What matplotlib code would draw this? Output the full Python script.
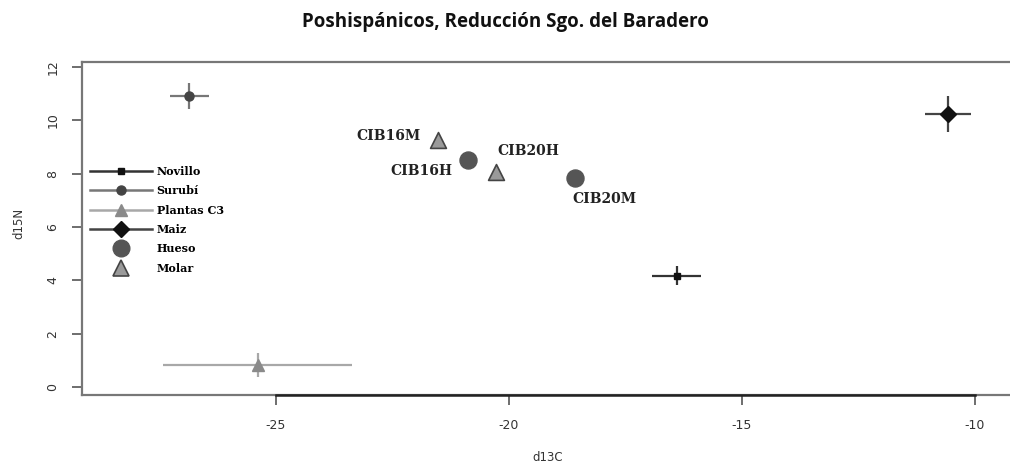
import matplotlib
matplotlib.use("Agg")
import matplotlib.pyplot as plt
from matplotlib.lines import Line2D

# fuentes de referencia (media, error x, error y)
ref_names = ["Novillo", "Surubí", "Plantas C3", "Maiz"]
ref_x = [-16.39, -26.86, -25.38, -10.58]
ref_y = [4.17, 10.91, 0.84, 10.24]
ref_xlo = [-16.93, -27.27, -27.42, -11.07]
ref_xhi = [-15.89, -26.44, -23.36, -10.09]
ref_ylo = [3.81, 10.42, 0.37, 9.57]
ref_yhi = [4.54, 11.40, 1.27, 10.92]

# muestras humanas
hueso_lab = ["CIB16H", "CIB20M"]
hueso_x = [-20.89, -18.59]
hueso_y = [8.51, 7.83]
molar_lab = ["CIB16M", "CIB20H"]
molar_x = [-21.52, -20.28]
molar_y = [9.26, 8.07]

xticks = [-25, -20, -15, -10]
yticks = [0, 2, 4, 6, 8, 10, 12]

ref_marker = ["s", "o", "^", "D"]
ref_mcol = ["#111111", "#444444", "#8a8a8a", "#111111"]
ref_ecol = ["#333333", "#777777", "#a8a8a8", "#444444"]
ref_ms = [5, 6.5, 8, 8]

fig = plt.figure(figsize=(10.1, 4.63), dpi=100)
ax = fig.add_axes([81.7 / 1010, 1 - 395 / 463, 1 - 81.7 / 1010, (395 - 61.7) / 463])

for i in range(len(ref_names)):
    ax.errorbar(ref_x[i], ref_y[i],
                xerr=[[ref_x[i] - ref_xlo[i]], [ref_xhi[i] - ref_x[i]]],
                yerr=[[ref_y[i] - ref_ylo[i]], [ref_yhi[i] - ref_y[i]]],
                fmt=ref_marker[i], color=ref_mcol[i], ecolor=ref_ecol[i],
                ms=ref_ms[i], elinewidth=1.6, capsize=0, zorder=3)

ax.scatter(hueso_x, hueso_y, s=150, marker="o", color="#555555", zorder=3)
ax.scatter(molar_x, molar_y, s=130, marker="^", facecolor="#9a9a9a",
           edgecolor="#444444", linewidth=1.2, zorder=3)

lab_font = dict(family="DejaVu Serif", fontweight="bold", fontsize=10, color="#222222")
ax.annotate(molar_lab[0], (molar_x[0], molar_y[0]), xytext=(-13, 3),
            textcoords="offset points", ha="right", va="center", **lab_font)
ax.annotate(hueso_lab[0], (hueso_x[0], hueso_y[0]), xytext=(-11, -8),
            textcoords="offset points", ha="right", va="center", **lab_font)
ax.annotate(molar_lab[1], (molar_x[1], molar_y[1]), xytext=(1, 15),
            textcoords="offset points", ha="left", va="center", **lab_font)
ax.annotate(hueso_lab[1], (hueso_x[1], hueso_y[1]), xytext=(-2, -15),
            textcoords="offset points", ha="left", va="center", **lab_font)

ax.set_xlim(-29.17, -9.25)
ax.set_ylim(-0.3, 12.2)
ax.set_xticks(xticks)
ax.set_yticks(yticks)
ax.set_xticklabels([str(t) for t in xticks], fontsize=9, color="#333333")
ax.set_yticklabels([str(t) for t in yticks], fontsize=9, color="#333333",
                   rotation=90, va="center")
ax.tick_params(axis="both", length=7, width=1.2, color="#555555", direction="out")
ax.tick_params(axis="x", pad=10)
ax.tick_params(axis="y", pad=9)

for s in ["top", "left"]:
    ax.spines[s].set_color("#777777")
    ax.spines[s].set_linewidth(1.6)
ax.spines["right"].set_visible(False)
ax.spines["bottom"].set_color("#222222")
ax.spines["bottom"].set_linewidth(1.8)
ax.spines["bottom"].set_bounds(xticks[0], xticks[-1])
ax.axhline(ax.get_ylim()[0], color="#777777", lw=1.6, clip_on=False, zorder=1)

ax.set_xlabel("d13C", fontsize=8.5, color="#333333")
ax.set_ylabel("d15N", fontsize=8.5, color="#333333")
ax.xaxis.set_label_coords((548 - 81.7) / 928.3, -(451 - 395) / 333.3)
ax.yaxis.set_label_coords(-(81.7 - 25) / 928.3, 0.5 - (223 - 228.4) / 333.3)

handles = []
for i in range(len(ref_names)):
    handles.append(Line2D([], [], color=ref_ecol[i], lw=1.8, marker=ref_marker[i],
                          mfc=ref_mcol[i], mec=ref_mcol[i], ms=ref_ms[i]))
handles.append(Line2D([], [], ls="none", marker="o", ms=12, mfc="#555555", mec="#555555"))
handles.append(Line2D([], [], ls="none", marker="^", ms=11, mfc="#9a9a9a", mec="#444444", mew=1.2))
leg = fig.legend(handles, ref_names + ["Hueso", "Molar"], loc="upper left",
                 bbox_to_anchor=(90 / 1010, 1 - 166 / 463), frameon=False,
                 prop=dict(family="DejaVu Serif", weight="bold", size=8),
                 handlelength=5.6, handletextpad=0.4, labelspacing=0.75,
                 borderpad=0, borderaxespad=0)

fig.suptitle("Poshispánicos, Reducción Sgo. del Baradero", x=0.5, y=0.975,
             fontsize=13.5, fontweight="bold", family="Open Sans", color="#111111")

fig.savefig("out.png", dpi=100)
